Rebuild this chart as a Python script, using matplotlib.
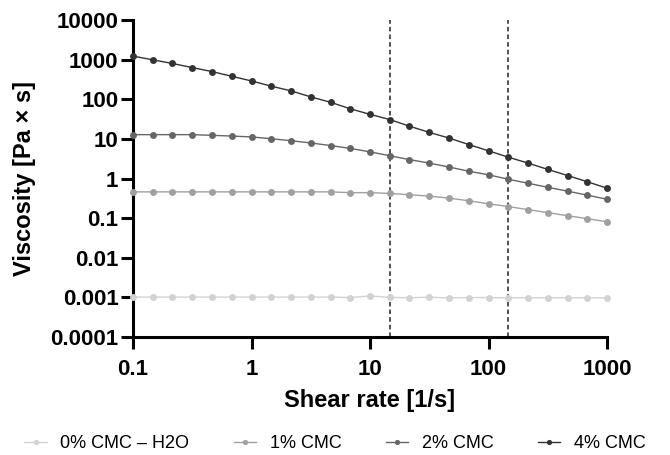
import numpy as np
import matplotlib
matplotlib.use("Agg")
import matplotlib.pyplot as plt
from matplotlib.ticker import FixedLocator, FixedFormatter, NullLocator

# ==================== DATA ====================
# shear rate points: 6 per decade, 0.1 .. 1000 [1/s]
shear_rate = [0.1, 0.1468, 0.2154, 0.3162, 0.4642, 0.6813, 1.0, 1.468, 2.154, 3.162,
              4.642, 6.813, 10.0, 14.68, 21.54, 31.62, 46.42, 68.13, 100.0, 146.8,
              215.4, 316.2, 464.2, 681.3, 1000.0]

visc_0 = [0.00102, 0.00102, 0.00102, 0.00102, 0.00102, 0.00102, 0.00102, 0.00102,
          0.00102, 0.00102, 0.00102, 0.00099, 0.00109, 0.00100, 0.00098, 0.00101,
          0.00097, 0.00099, 0.00099, 0.00098, 0.00098, 0.00098, 0.00098, 0.00098, 0.00097]
visc_1 = [0.46, 0.46, 0.46, 0.46, 0.46, 0.46, 0.46, 0.46, 0.46, 0.46, 0.46,
          0.44, 0.44, 0.42, 0.39, 0.36, 0.32, 0.275, 0.23, 0.196, 0.164, 0.138,
          0.115, 0.097, 0.081]
visc_2 = [12.8, 12.8, 12.8, 12.8, 12.3, 11.8, 11.2, 10.1, 9.0, 7.9, 6.8,
          5.75, 4.7, 3.76, 3.0, 2.45, 1.95, 1.53, 1.24, 0.96, 0.76, 0.60,
          0.48, 0.38, 0.30]
visc_4 = [1230, 990, 800, 630, 500, 380, 290, 214, 163, 115, 84,
          57.5, 41.6, 30.8, 20.9, 14.6, 10.5, 7.2, 5.0, 3.46, 2.45, 1.70,
          1.19, 0.83, 0.57]

series_labels = ['0% CMC – H2O', '1% CMC', '2% CMC', '4% CMC']
series_colors = ['#d2d2d2', '#a0a0a0', '#666666', '#333333']

marked_rates = [14.68, 146.8]

x_ticks = [0.1, 1, 10, 100, 1000]
x_tick_labels = ['0.1', '1', '10', '100', '1000']
y_ticks = [0.0001, 0.001, 0.01, 0.1, 1, 10, 100, 1000, 10000]
y_tick_labels = ['0.0001', '0.001', '0.01', '0.1', '1', '10', '100', '1000', '10000']
# ==============================================

plt.rcParams['font.family'] = ['Liberation Sans', 'DejaVu Sans']

fig = plt.figure(figsize=(6.7, 4.55), dpi=100)
ax = fig.add_axes([0.1985, 0.2593, 0.7075, 0.6967])

for vals, lab, col in zip([visc_0, visc_1, visc_2, visc_4], series_labels, series_colors):
    ax.plot(shear_rate, vals, color=col, lw=1.0, marker='o', markersize=5,
            markeredgewidth=0, label=lab, clip_on=False, zorder=3)

for xr in marked_rates:
    ax.axvline(xr, color='#222222', lw=1.1, linestyle=(0, (3, 2)), zorder=2)

ax.set_xscale('log')
ax.set_yscale('log')
ax.set_xlim(0.1, 1000)
ax.set_ylim(0.0001, 10000)

ax.xaxis.set_major_locator(FixedLocator(x_ticks))
ax.xaxis.set_major_formatter(FixedFormatter(x_tick_labels))
ax.xaxis.set_minor_locator(NullLocator())
ax.yaxis.set_major_locator(FixedLocator(y_ticks))
ax.yaxis.set_major_formatter(FixedFormatter(y_tick_labels))
ax.yaxis.set_minor_locator(NullLocator())

for side in ['top', 'right']:
    ax.spines[side].set_visible(False)
for side in ['left', 'bottom']:
    ax.spines[side].set_linewidth(2.2)

ax.tick_params(axis='both', which='major', length=8.5, width=2.2, labelsize=16,
               direction='out')
ax.tick_params(axis='x', pad=7)
ax.tick_params(axis='y', pad=2)
for t in ax.get_xticklabels() + ax.get_yticklabels():
    t.set_fontweight('bold')

ax.set_xlabel('Shear rate [1/s]', fontsize=17, fontweight='bold', labelpad=7)
ax.set_ylabel('Viscosity [Pa × s]', fontsize=17, fontweight='bold', labelpad=10)

fig.legend(loc='lower center', bbox_to_anchor=(0.5, -0.03), ncol=4, frameon=False,
           fontsize=13, handlelength=1.25, columnspacing=2.45, handletextpad=0.75,
           markerscale=0.75)

fig.savefig('out.png', dpi=100)
